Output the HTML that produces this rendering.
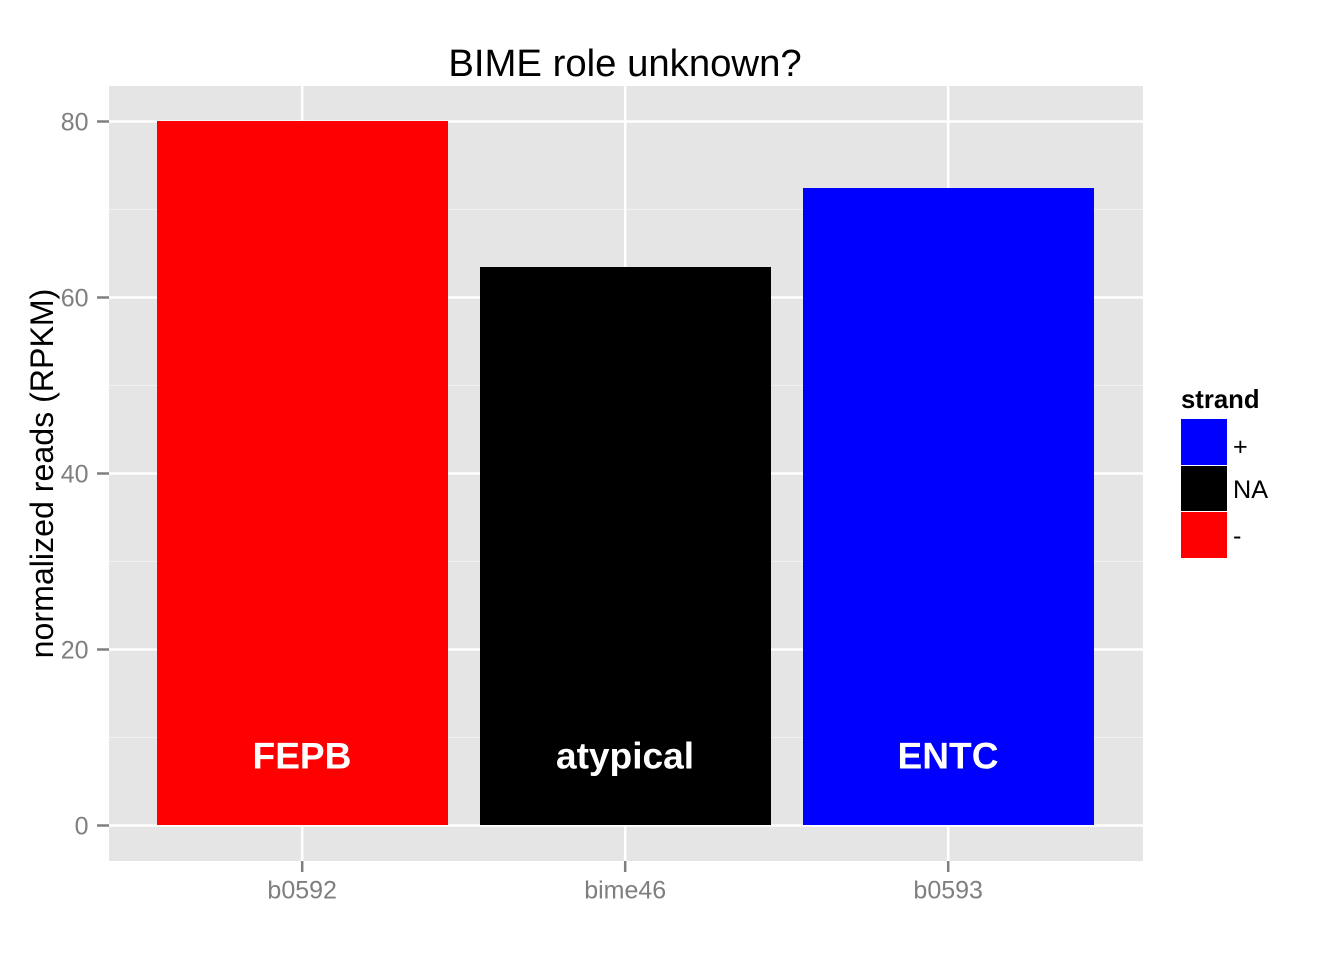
<!DOCTYPE html>
<html>
<head>
<meta charset="utf-8">
<style>
html,body{margin:0;padding:0;background:#fff;}
svg{display:block;font-family:"Liberation Sans",sans-serif;}
</style>
</head>
<body>
<svg id="chart" width="1344" height="960" viewBox="0 0 1344 960" xmlns="http://www.w3.org/2000/svg">
<rect width="1344" height="960" fill="#fff"/>
<text x="625" y="76" font-size="38.3" text-anchor="middle" fill="#000">BIME role unknown?</text>
<rect x="109" y="86" width="1034" height="775" fill="#e5e5e5"/>
<g id="grid"></g>
<g id="bars"></g>
<g id="axes"></g>
<text transform="translate(53,473.5) rotate(-90)" font-size="32.15" text-anchor="middle" fill="#000">normalized reads (RPKM)</text>
<g>
<text x="1181" y="408" font-size="25.7" font-weight="bold" fill="#000">strand</text>
<g id="legend-items"></g>
<text x="1233" y="455" font-size="25.2" fill="#000">+</text>
<text x="1233" y="498" font-size="25.2" fill="#000">NA</text>
<text x="1233" y="544" font-size="25.2" fill="#000">-</text>
</g>
</svg>
<script>
const categories = ['b0592', 'bime46', 'b0593'];
const values = [80, 63.4, 72.4];
const barLabels = ['FEPB', 'atypical', 'ENTC'];
const barColors = ['#ff0000', '#000000', '#0000ff'];
const yTicks = [0, 20, 40, 60, 80];
const yMinor = [10, 30, 50, 70];
const legendColors = ['#0000ff', '#000000', '#ff0000'];

const NS = 'http://www.w3.org/2000/svg';
const panel = {left: 109, right: 1143, top: 86, bottom: 861};
function y(v) { return 825 - v * 8.8; }
function x(i) { return 302.5 + i * 323; }
const bandWidth = 291;
const keyHeight = 46;

function make(tag, attrs, parent, text) {
  const el = document.createElementNS(NS, tag);
  for (const k in attrs) el.setAttribute(k, attrs[k]);
  if (text !== undefined) el.textContent = text;
  parent.appendChild(el);
  return el;
}

const grid = document.getElementById('grid');
const bars = document.getElementById('bars');
const axes = document.getElementById('axes');
const legendItems = document.getElementById('legend-items');

yMinor.forEach(v => {
  const el = make('line', {x1: panel.left, x2: panel.right, y1: y(v) + 0.5, y2: y(v) + 0.5, stroke: '#f2f2f2', 'stroke-width': 1}, grid);
  
  
});
yTicks.forEach(v => {
  const el = make('line', {x1: panel.left, x2: panel.right, y1: y(v) + 0.5, y2: y(v) + 0.5, stroke: '#fff', 'stroke-width': 2.5}, grid);
  
  
  const tick = make('line', {x1: panel.left - 12, x2: panel.left, y1: y(v) + 0.5, y2: y(v) + 0.5, stroke: '#7f7f7f', 'stroke-width': 2.5}, axes);
  
  
  const label = make('text', {x: panel.left - 20.5, y: y(v) + 9.5, 'font-size': 25, 'text-anchor': 'end', fill: '#7f7f7f'}, axes, String(v));
  
  
});
categories.forEach((c, i) => {
  const cx = x(i);
  const line = make('line', {x1: cx - 0.3, x2: cx - 0.3, y1: panel.top, y2: panel.bottom, stroke: '#fff', 'stroke-width': 2.5}, grid);
  
  
  const bar = make('rect', {x: cx - bandWidth / 2, y: y(values[i]), width: bandWidth, height: y(0) - y(values[i]), fill: barColors[i], 'shape-rendering': 'crispEdges'}, bars);
  
  
  const inner = make('text', {x: cx - 0.5, y: 768.5, 'font-size': 37.1, 'font-weight': 'bold', 'text-anchor': 'middle', fill: '#fff'}, bars, barLabels[i]);
  
  
  const tick = make('line', {x1: cx - 0.3, x2: cx - 0.3, y1: panel.bottom, y2: panel.bottom + 11, stroke: '#7f7f7f', 'stroke-width': 2.5}, axes);
  
  
  const label = make('text', {x: cx - 0.3, y: 898.5, 'font-size': 25, 'text-anchor': 'middle', fill: '#7f7f7f'}, axes, c);
  
  
});
legendColors.forEach((color, i) => {
  const top = 419 + i * keyHeight;
  const isLast = i === legendColors.length - 1;
  const key = make('rect', {x: 1181, y: top, width: 46, height: isLast ? keyHeight + 1 : keyHeight, fill: color}, legendItems);
  
  
  if (i > 0) {
    const sep = make('line', {x1: 1181, x2: 1227, y1: top + 0.5, y2: top + 0.5, stroke: '#fff', 'stroke-width': 1}, legendItems);
    
    
  }
});
</script>
</body>
</html>
